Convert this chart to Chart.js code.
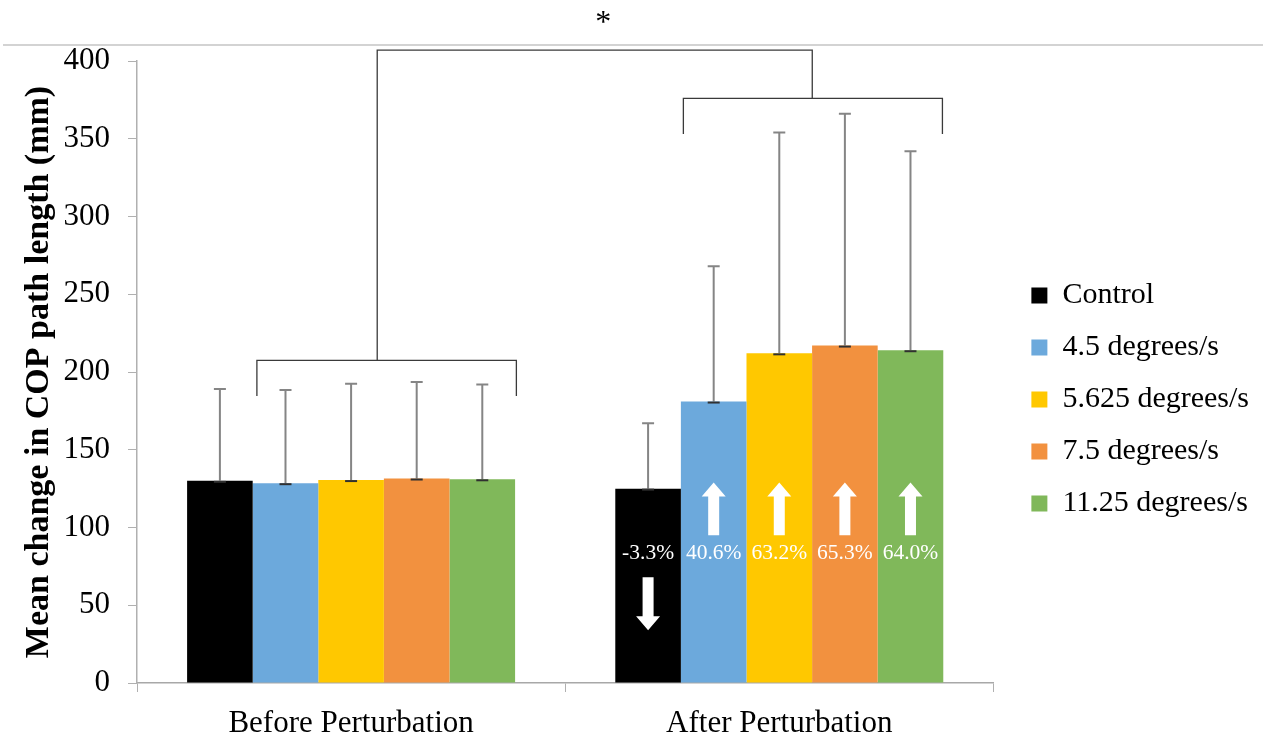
<!DOCTYPE html>
<html>
<head>
<meta charset="utf-8">
<script src="https://cdn.jsdelivr.net/npm/chart.js@4"></script>
<style>
    html, body { margin: 0; padding: 0; background: #fff; }
</style>
</head>
<body>
<canvas id="chart" width="1268" height="738"></canvas>
<script>
const categories = ['Before Perturbation', 'After Perturbation'];
const seriesNames = ['Control', '4.5 degrees/s', '5.625 degrees/s', '7.5 degrees/s', '11.25 degrees/s'];
const seriesColors = ['#000000', '#6CA9DC', '#FFC800', '#F2913F', '#80B85A'];

// means (mm), one array per series: [before, after]
const controlMean = [130, 125];
const deg45Mean = [128.5, 181];
const deg5625Mean = [130.5, 212];
const deg75Mean = [131.5, 217];
const deg1125Mean = [131, 214];

// upper error (SD)
const controlSd = [59, 42];
const deg45Sd = [60, 87];
const deg5625Sd = [62, 142];
const deg75Sd = [62, 149];
const deg1125Sd = [61, 128];

const yTicks = [0, 50, 100, 150, 200, 250, 300, 350, 400];

// change labels shown inside the "after" bars
const changeLabels = ['-3.3%', '40.6%', '63.2%', '65.3%', '64.0%'];
const changeDir = ['down', 'up', 'up', 'up', 'up'];

const means = [controlMean, deg45Mean, deg5625Mean, deg75Mean, deg1125Mean];
const sds = [controlSd, deg45Sd, deg5625Sd, deg75Sd, deg1125Sd];

const serif = "'Liberation Serif', 'Times New Roman', serif";

const errorBars = {
    id: 'errorBars',
    afterDatasetsDraw(chart) {
        const ctx = chart.ctx;
        const y = chart.scales.y;
        ctx.save();
        chart.data.datasets.forEach((ds, i) => {
            chart.getDatasetMeta(i).data.forEach((bar, j) => {
                const top = y.getPixelForValue(ds.data[j] + sds[i][j]);
                ctx.strokeStyle = '#858585';
                ctx.lineWidth = 2;
                ctx.beginPath();
                ctx.moveTo(bar.x, bar.y);
                ctx.lineTo(bar.x, top);
                ctx.moveTo(bar.x - 6, top);
                ctx.lineTo(bar.x + 6, top);
                ctx.stroke();
                ctx.strokeStyle = '#303030';
                ctx.beginPath();
                ctx.moveTo(bar.x - 6, bar.y + 1);
                ctx.lineTo(bar.x + 6, bar.y + 1);
                ctx.stroke();
            });
        });
        ctx.restore();
    }
};

const annotations = {
    id: 'annotations',
    afterDraw(chart) {
        const ctx = chart.ctx;
        const x = chart.scales.x;
        const y = chart.scales.y;
        const px = v => x.getPixelForValue(v);
        const py = v => y.getPixelForValue(v);
        ctx.save();

        // separator line and asterisk
        ctx.strokeStyle = '#c4c4c4';
        ctx.lineWidth = 1.5;
        ctx.beginPath();
        ctx.moveTo(3, py(410.3));
        ctx.lineTo(chart.width - 5, py(410.3));
        ctx.stroke();
        ctx.fillStyle = '#000';
        ctx.font = '32px ' + serif;
        ctx.textAlign = 'center';
        ctx.textBaseline = 'middle';
        ctx.fillText('*', px(0.589), py(424));

        // brackets
        ctx.strokeStyle = '#3a3a3a';
        ctx.lineWidth = 1.3;
        ctx.beginPath();
        ctx.moveTo(px(-0.22), py(184.5));
        ctx.lineTo(px(-0.22), py(207.5));
        ctx.lineTo(px(0.386), py(207.5));
        ctx.lineTo(px(0.386), py(184.5));
        ctx.moveTo(px(0.776), py(353));
        ctx.lineTo(px(0.776), py(376));
        ctx.lineTo(px(1.381), py(376));
        ctx.lineTo(px(1.381), py(353));
        ctx.moveTo(px(0.061), py(207.5));
        ctx.lineTo(px(0.061), py(407));
        ctx.lineTo(px(1.077), py(407));
        ctx.lineTo(px(1.077), py(376));
        ctx.stroke();

        // change labels and arrows in the after bars
        ctx.fillStyle = '#fff';
        ctx.font = '21.5px ' + serif;
        chart.data.datasets.forEach((ds, i) => {
            const bar = chart.getDatasetMeta(i).data[1];
            const cx = bar.x;
            ctx.fillText(changeLabels[i], cx, py(83.5));
            const from = changeDir[i] === 'up' ? py(95) : py(68);
            const to = changeDir[i] === 'up' ? py(129) : py(34);
            const dir = changeDir[i] === 'up' ? -1 : 1;
            const head = 14;
            ctx.beginPath();
            ctx.moveTo(cx - 5.5, from);
            ctx.lineTo(cx - 5.5, to - dir * head);
            ctx.lineTo(cx - 12, to - dir * head);
            ctx.lineTo(cx, to);
            ctx.lineTo(cx + 12, to - dir * head);
            ctx.lineTo(cx + 5.5, to - dir * head);
            ctx.lineTo(cx + 5.5, from);
            ctx.closePath();
            ctx.fill();
        });
        ctx.restore();
    }
};

// nudge the legend a bit away from the plot
const legendShift = {
    id: 'legendShift',
    afterLayout(chart) {
        chart.legend.left += 16;
        chart.legend.right += 16;
    }
};

new Chart(document.getElementById('chart'), {
    type: 'bar',
    data: {
        labels: categories,
        datasets: seriesNames.map((name, i) => ({
            label: name,
            data: means[i],
            backgroundColor: seriesColors[i],
            borderWidth: 0,
            categoryPercentage: 0.766,
            barPercentage: 1
        }))
    },
    options: {
        responsive: false,
        animation: false,
        layout: { padding: { top: 61, left: 0, right: 25, bottom: 0 } },
        plugins: {
            legend: {
                position: 'right',
                labels: {
                    color: '#000',
                    font: { family: serif, size: 30 },
                    boxWidth: 16,
                    boxHeight: 16,
                    padding: 22
                }
            },
            tooltip: { enabled: false }
        },
        scales: {
            x: {
                grid: {
                    display: true,
                    drawOnChartArea: false,
                    color: '#b0b0b0',
                    tickLength: 9,
                    offset: true
                },
                border: { color: '#a8a8a8', width: 1.5 },
                ticks: { color: '#000', font: { family: serif, size: 31 }, padding: 13 },
                afterFit(scale) { scale.height = 55; }
            },
            y: {
                min: 0,
                max: 400,
                afterBuildTicks(scale) { scale.ticks = yTicks.map(v => ({ value: v })); },
                afterFit(scale) { scale.width = 137; },
                grid: {
                    display: true,
                    drawOnChartArea: false,
                    color: '#b0b0b0',
                    tickLength: 9
                },
                border: { color: '#b0b0b0', width: 1.5 },
                ticks: { color: '#000', font: { family: serif, size: 31 }, padding: 18 },
                title: {
                    display: true,
                    text: 'Mean change in COP path length (mm)',
                    color: '#000',
                    font: { family: serif, size: 34, weight: 'bold' },
                    padding: { top: 19, bottom: 0 }
                }
            }
        }
    },
    plugins: [errorBars, annotations, legendShift]
});
</script>
</body>
</html>
